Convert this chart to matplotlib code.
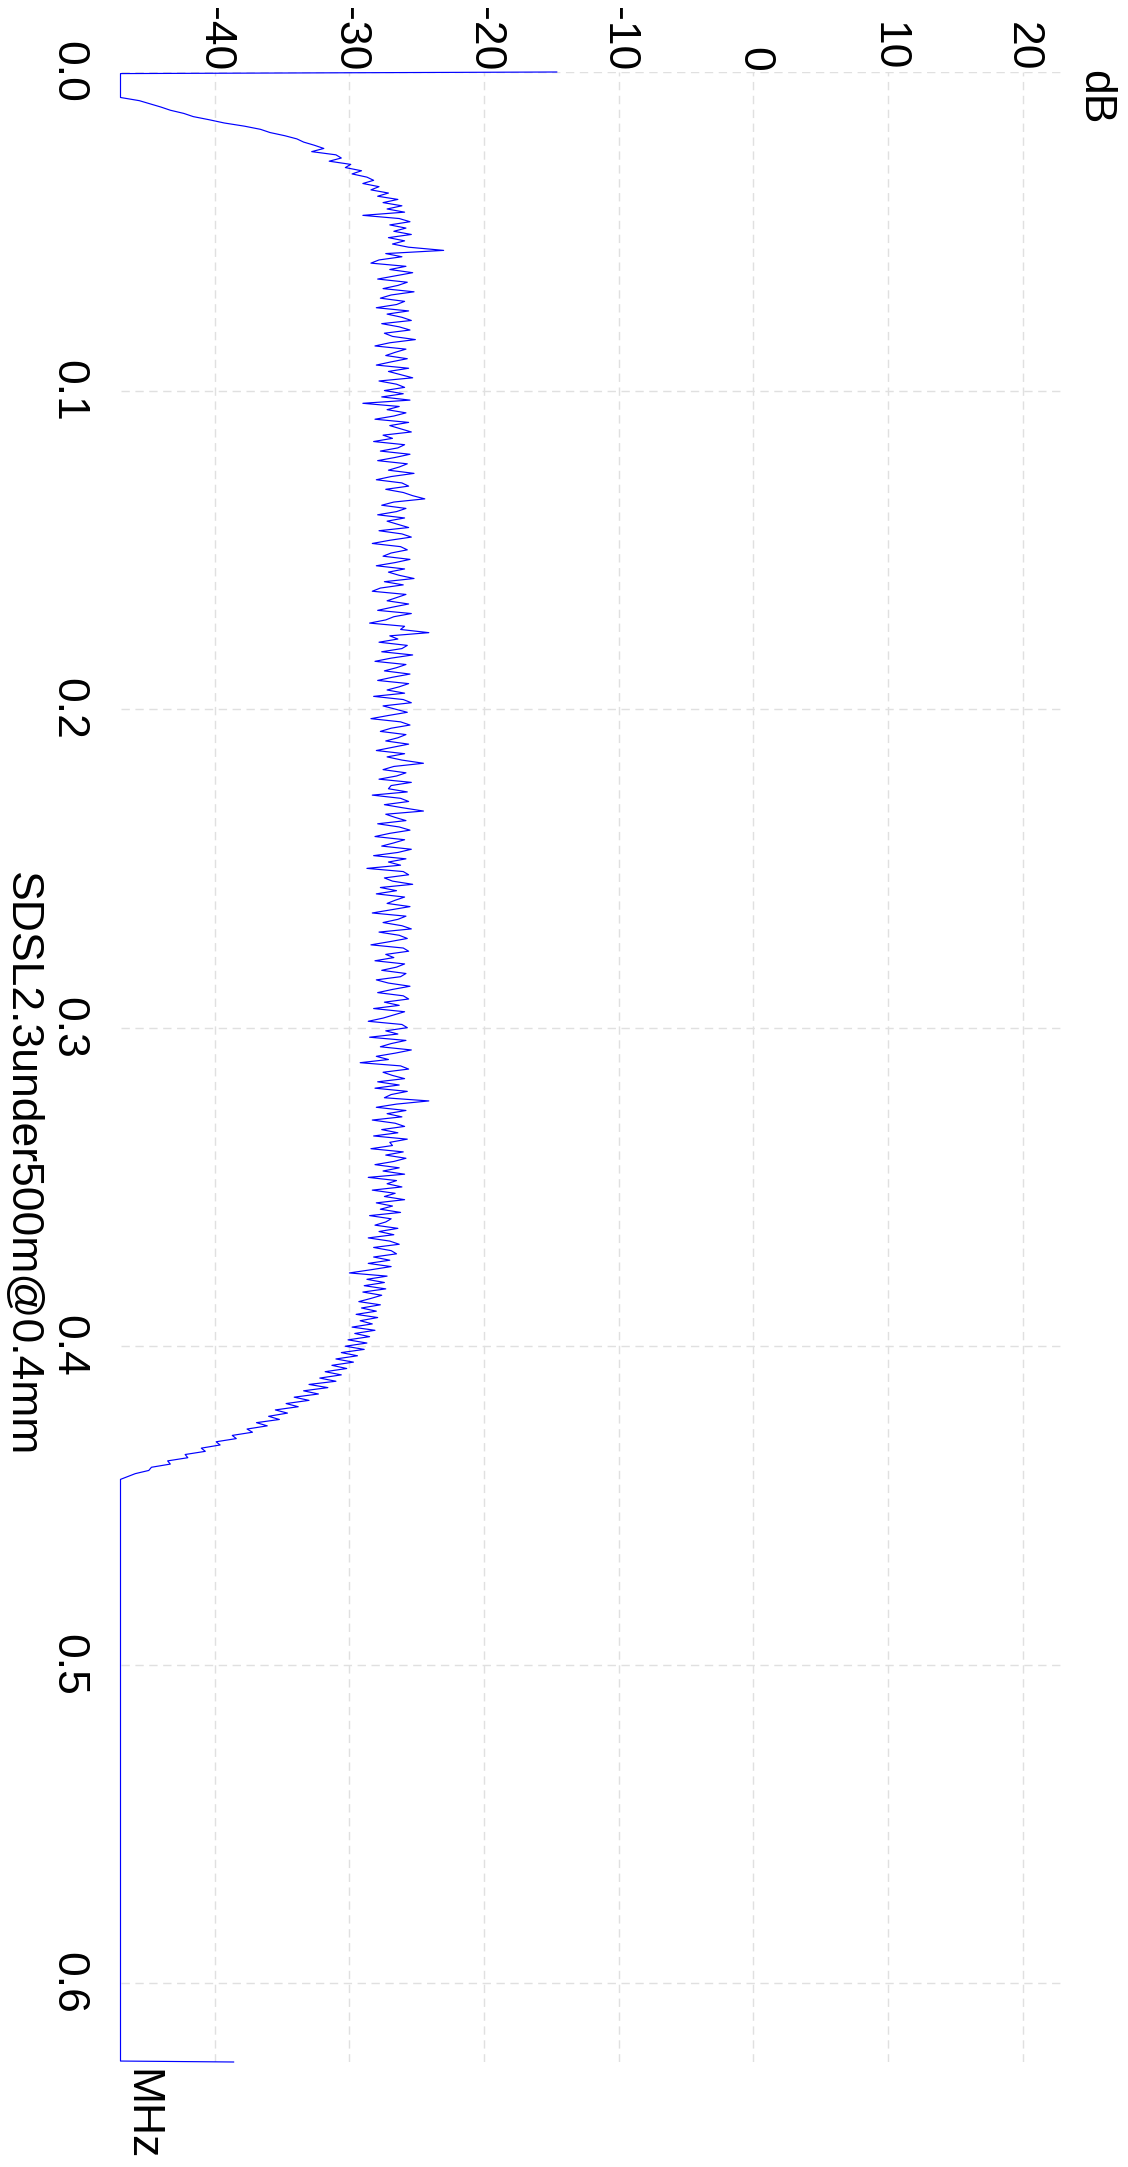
import matplotlib
matplotlib.use("Agg")
import matplotlib.pyplot as plt
import numpy as np

plt.rcParams['font.family'] = ['Liberation Sans', 'DejaVu Sans']

# start of the trace: DC point, then floor
mhz_head = [0.0, 0.0005, 0.008]
db_head = [-14.6, -47.0, -47.0]

# active band, one sample every 0.001 MHz from 0.009 to 0.441
db_rise = [-45.6, -44.8, -44.0, -43.3, -42.3, -41.6, -40.4, -39.3, -37.8, -36.6,
           -35.9, -34.8, -33.9, -33.4, -32.6, -31.9, -32.8, -31.0, -30.6, -31.5,
           -29.9, -30.3, -29.1, -29.8, -28.7, -28.2, -29.0, -27.8, -28.4, -27.1,
           -27.9, -26.4, -27.5, -26.1, -27.2, -25.9, -29.0, -26.3, -25.5, -27.0,
           -25.8, -26.7]
db_band = [-25.4, -27.1, -25.9, -26.8, -25.6, -23.0, -27.3, -26.1, -27.8, -28.4,
           -25.8, -27.0, -25.3, -26.6, -27.9, -25.7, -26.4, -27.5, -25.2, -26.9,
           -27.7, -25.9, -26.5, -28.0, -25.6, -27.2, -26.1, -25.4, -27.6, -26.3,
           -25.5, -27.4, -26.8, -25.1, -27.0, -28.1, -25.8, -26.6, -27.3, -25.7,
           -26.9, -28.0, -25.6, -27.1, -26.2, -25.3, -27.8, -26.5, -25.9, -27.4,
           -26.0, -27.6, -25.5, -29.0, -26.3, -27.2, -25.8, -26.7, -28.1, -25.6,
           -27.0, -26.2, -25.4, -27.5, -26.8, -28.2, -25.9, -26.4, -27.7, -25.5,
           -26.6, -27.9, -25.7, -26.3, -27.1, -25.2, -26.9, -28.0, -26.1, -25.6,
           -27.3, -26.0, -25.3, -24.4, -26.7, -27.6, -25.8, -26.5, -27.9, -25.9,
           -27.2, -26.4, -25.6, -27.8, -26.1, -25.4, -27.0, -28.3, -26.2, -25.7,
           -26.9, -27.5, -25.5, -26.6, -28.0, -25.9, -27.1, -26.3, -25.2, -27.4,
           -26.0, -27.7, -28.3, -25.8, -26.5, -27.2, -25.6, -26.8, -27.9, -25.4,
           -26.7, -27.3, -28.5, -25.9, -26.2, -24.1, -27.0, -26.4, -27.8, -25.7,
           -26.1, -27.6, -25.3, -26.9, -28.1, -25.8, -26.5, -27.4, -25.5, -26.8,
           -27.9, -25.6, -26.3, -27.2, -25.9, -28.2, -26.0, -25.4, -27.5, -26.6,
           -25.7, -27.1, -28.4, -26.2, -25.5, -26.9, -27.7, -25.8, -26.4, -27.3,
           -25.6, -26.8, -28.0, -25.9, -27.2, -26.1, -24.5, -26.7, -27.5, -25.8,
           -26.5, -27.8, -25.4, -26.9, -27.1, -25.7, -28.3, -26.2, -25.6, -27.4,
           -26.0, -24.5, -27.3, -26.6, -25.8, -27.9, -26.3, -25.5, -27.0, -28.1,
           -25.9, -26.7, -27.6, -25.4, -26.4, -28.2, -25.8, -27.1, -26.2, -28.7,
           -26.0, -25.6, -27.4, -26.8, -25.3, -27.7, -26.5, -28.0, -25.9, -26.6,
           -27.2, -25.5, -26.9, -28.3, -25.8, -26.4, -27.5, -26.1, -25.4, -27.8,
           -26.3, -25.7, -27.0, -28.4, -26.0, -25.6, -27.3, -26.7, -28.1, -25.9,
           -26.5, -27.6, -25.8, -26.2, -28.0, -27.1, -25.5, -26.8, -27.9, -26.0,
           -25.6, -27.4, -26.3, -28.2, -25.9, -26.7, -27.5, -28.6, -26.1, -25.7,
           -27.3, -26.4, -28.5, -25.8, -26.9, -27.7, -25.4, -26.6, -28.0, -27.1,
           -29.2, -26.2, -25.6, -27.5, -26.8, -25.9, -27.9, -26.3, -28.1, -25.7,
           -26.9, -27.4, -24.1, -26.5, -28.0, -25.8, -27.2, -26.1, -28.3, -26.6,
           -25.9, -27.6, -26.4, -28.2, -25.7, -27.0, -26.8, -28.4, -26.0, -27.3,
           -25.8, -26.7, -28.1, -26.3, -27.5, -25.9, -28.6, -26.5, -27.2, -26.1,
           -28.3, -26.6, -27.4, -25.9, -28.0, -26.8, -27.7, -26.2, -28.5, -26.9,
           -27.3, -28.1, -26.4, -27.8, -26.7, -28.6, -27.0, -26.3, -28.2, -26.9]
db_fall = [-26.5, -28.2, -27.0, -28.6, -26.9, -28.4, -30.0, -27.2, -28.7, -27.4,
           -28.9, -27.3, -29.0, -27.6, -28.4, -29.3, -27.7, -29.1, -28.0, -29.5,
           -27.9, -29.2, -28.3, -29.8, -28.1, -29.6, -28.5, -30.1, -28.7, -30.3,
           -28.9, -30.6, -29.4, -31.0, -29.7, -31.3, -30.2, -31.8, -30.6, -32.2,
           -31.0, -33.0, -31.6, -33.4, -32.3, -34.1, -33.0, -34.7, -33.8, -35.5,
           -34.6, -36.0, -35.2, -36.9, -36.1, -37.6, -37.2, -38.7, -38.4, -39.9,
           -39.6, -41.0, -40.7, -42.2, -42.0, -43.5, -43.3, -44.7, -44.9, -45.9,
           -46.5]

# end of the trace: floor, then last point
mhz_tail = [0.4418, 0.6244, 0.6247]
db_tail = [-47.0, -47.0, -38.6]

db_ticks = [-40, -30, -20, -10, 0, 10, 20]
mhz_ticks = [0.0, 0.1, 0.2, 0.3, 0.4, 0.5, 0.6]

db_active = db_rise + db_band + db_fall
mhz_active = np.linspace(0.009, 0.441, len(db_active))

mhz = np.concatenate([mhz_head, mhz_active, mhz_tail])
db = np.concatenate([db_head, db_active, db_tail])

W, H = 1128, 2167
fig = plt.figure(figsize=(W / 100, H / 100), dpi=100)
ax = fig.add_axes([120.5 / W, 1 - 2062 / H, (1063 - 120.5) / W, (2062 - 72) / H])

# the trace sits on the plot edges, so don't clip it
ax.plot(db, mhz, color='#0000ff', lw=0.85, clip_on=False)
ax.set_xlim(-47, 23)
ax.set_ylim(0.6247, 0.0)

ax.set_xticks(db_ticks)
ax.set_xticklabels([str(t) for t in db_ticks])
ax.set_yticks(mhz_ticks)
ax.set_yticklabels(['%.1f' % t for t in mhz_ticks])

ax.xaxis.tick_top()
ax.tick_params(axis='x', length=0, pad=0.5, labelsize=32, labelrotation=-90)
ax.tick_params(axis='y', length=0, pad=23, labelsize=32, labelrotation=-90)
for lab in ax.get_yticklabels():
    lab.set_verticalalignment('center')

for s in ax.spines.values():
    s.set_visible(False)

ax.grid(True, color='#e0e0e0', lw=1.0, linestyle=(0, (6, 4)))
ax.set_axisbelow(True)

fig.text(21.5 / W, 1 - 1164 / H, 'SDSL2.3under500m@0.4mm', rotation=-90,
         ha='center', va='center', fontsize=32)
fig.text(141 / W, 1 - 2115 / H, 'MHz', rotation=-90,
         ha='center', va='center', fontsize=32)
fig.text(1094.5 / W, 1 - 97 / H, 'dB', rotation=-90,
         ha='center', va='center', fontsize=32)

fig.savefig('out.png', dpi=100)
